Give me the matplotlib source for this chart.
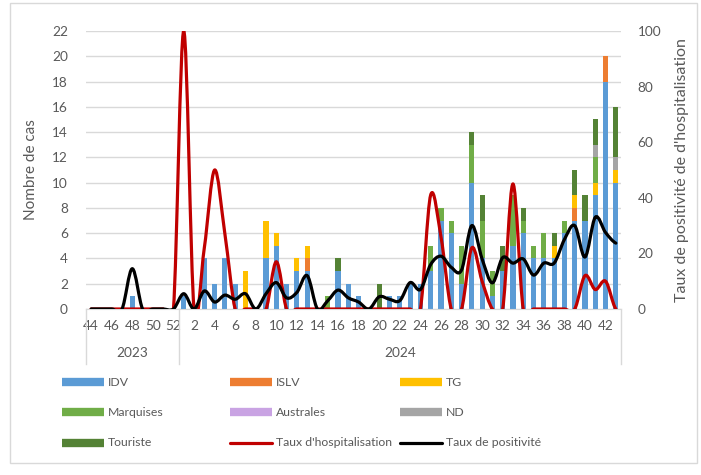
import matplotlib
matplotlib.use('Agg')
import matplotlib.pyplot as plt
from matplotlib.path import Path
from matplotlib.patches import PathPatch, Rectangle
from matplotlib.lines import Line2D
import matplotlib.transforms as mtransforms
import numpy as np

plt.rcParams['font.family'] = ['Lato', 'DejaVu Sans']

weeks = [44, 45, 46, 47, 48, 49, 50, 51, 52] + list(range(1, 44))
years = ['2023', '2024']
year_sizes = [9, 43]

# cases per week, by origin
idv = [0, 0, 0, 0, 1, 0, 0, 0, 0,
       1, 0, 4, 2, 4, 2, 0, 0, 4, 5, 2, 3, 3, 0, 0, 3, 2, 1, 0, 0, 1, 1, 2, 2,
       3, 7, 6, 2, 10, 4, 1, 3, 5, 6, 4, 4, 4, 6, 7, 7, 9, 18, 10]
islv = [0] * 9 + [0, 0, 0, 0, 0, 0, 0, 0, 0, 0, 0, 0, 1, 0, 0, 0, 0, 0, 0, 0, 0, 0, 0, 0,
                 0, 0, 0, 0, 0, 0, 0, 0, 0, 0, 0, 0, 0, 0, 1, 0, 0, 2, 0]
tg = [0] * 9 + [0, 0, 0, 0, 0, 0, 3, 0, 3, 1, 0, 1, 1, 0, 0, 0, 0, 0, 0, 0, 0, 0, 0, 0,
               0, 0, 0, 0, 0, 0, 0, 0, 0, 0, 0, 0, 1, 0, 1, 0, 1, 0, 1]
marquises = [0] * 9 + [0, 0, 0, 0, 0, 0, 0, 0, 0, 0, 0, 0, 0, 0, 1, 0, 0, 0, 0, 0, 0, 0, 0, 0,
                      2, 1, 1, 3, 3, 3, 2, 0, 4, 1, 1, 2, 0, 1, 0, 0, 2, 0, 0]
australes = [0] * 52
nd = [0] * 9 + [0] * 40 + [1, 0, 1]
touriste = [0] * 9 + [0, 0, 0, 0, 0, 0, 0, 0, 0, 0, 0, 0, 0, 0, 0, 1, 0, 0, 0, 2, 0, 0, 0, 0,
                     0, 0, 0, 0, 1, 2, 0, 2, 0, 1, 0, 0, 1, 0, 2, 2, 2, 0, 4]

# rates (%)
hosp = [0, 0, 0, 0, 0, 0, 0, 0, 0,
        100, 0, 22, 50, 27, 0, 0, 0, 0, 17, 0, 0, 0, 0, 0, 0, 0, 0, 0, 0, 0, 0, 0, 0,
        41, 26, 0, 0, 22, 10, 0, 0, 45, 0, 0, 0, 0, 0, 0, 12, 7, 10, 0]
posit = [0, 0, 0, 0, 14.5, 0, 0, 0, 0,
         5.5, 0, 6.5, 2.5, 5, 3.5, 5.5, 0, 5.5, 9.5, 4, 6, 12, 0, 3, 6.8, 4, 2.5, 0, 4.4,
         3.5, 3, 9.5, 7, 16, 19, 15, 14, 30, 18, 9.4, 18.5, 16.5, 18, 12.2, 16.5, 16.5,
         25, 30, 18.7, 33, 27.5, 23.7]

series = [('IDV', idv, '#5B9BD5'), ('ISLV', islv, '#ED7D31'), ('TG', tg, '#FFC000'),
          ('Marquises', marquises, '#70AD47'), ('Australes', australes, '#C9A3E3'),
          ('ND', nd, '#A5A5A5'), ('Touriste', touriste, '#548235')]
lines = [("Taux d'hospitalisation", hosp, '#C00000'), ('Taux de positivité', posit, '#000000')]

grey = '#595959'
W, H = 701, 475
fig = plt.figure(figsize=(W / 100, H / 100), dpi=100)
ax = fig.add_axes([86 / W, 1 - 309 / H, (621 - 86) / W, (309 - 31) / H])
ax2 = ax.twinx()

x = np.arange(len(weeks))
bottom = np.zeros(len(weeks))
for name, vals, col in series:
    ax.bar(x, vals, 0.5, bottom=bottom, color=col, zorder=2)
    bottom += np.array(vals)

ax.set_xlim(-0.5, len(weeks) - 0.5)
ax.set_ylim(0, 22)
ax.set_yticks(range(0, 23, 2))
ax.set_axisbelow(True)
ax.grid(axis='y', color='#D9D9D9', lw=1)
ax.set_xticks(x[::2], [str(w) for w in weeks[::2]])
ax.tick_params(axis='x', length=0, pad=8, labelsize=9.8, labelcolor=grey)
ax.tick_params(axis='y', length=0, pad=13, labelsize=9.8, labelcolor=grey)
for s in ['top', 'left', 'right']:
    ax.spines[s].set_visible(False)
    ax2.spines[s].set_visible(False)
ax.spines['bottom'].set_color('#D9D9D9')
ax2.spines['bottom'].set_visible(False)
ax.set_ylabel('Nombre de cas', fontsize=11, color=grey, labelpad=10)


def smooth_path(xs, ys):
    verts = [(xs[0], ys[0])]
    codes = [Path.MOVETO]
    n = len(xs)
    for i in range(n - 1):
        y0 = ys[i - 1] if i > 0 else ys[i]
        y3 = ys[i + 2] if i + 2 < n else ys[i + 1]
        verts += [(xs[i] + 1 / 3, ys[i] + (ys[i + 1] - y0) / 6),
                  (xs[i + 1] - 1 / 3, ys[i + 1] - (y3 - ys[i]) / 6),
                  (xs[i + 1], ys[i + 1])]
        codes += [Path.CURVE4] * 3
    return Path(verts, codes)


for name, vals, col in lines:
    ax2.add_patch(PathPatch(smooth_path(x, vals), fill=False, edgecolor=col, lw=2.3,
                            capstyle='round', joinstyle='round'))
ax2.set_ylim(0, 100)
ax2.set_yticks(range(0, 101, 20))
ax2.tick_params(axis='y', length=0, pad=12, labelsize=9.8, labelcolor=grey)
ax2.set_ylabel("Taux de positivité de d'hospitalisation", fontsize=11.5, color=grey, labelpad=10)

# year groups on the category axis
trans = mtransforms.blended_transform_factory(ax.transData, ax.transAxes)
start = -0.5
for yr, n in zip(years, year_sizes):
    ax.text(start + n / 2, -44 / 278, yr, transform=trans, ha='center', va='center',
            fontsize=9.8, color=grey)
    start += n
edges = np.cumsum([0] + year_sizes) - 0.5
for e in edges:
    ax.plot([e, e], [0, -55 / 278], transform=trans, color='#D9D9D9', lw=1, clip_on=False)

# legend
items = [(s[0], s[2], 'bar') for s in series] + [(l[0], l[2], 'line') for l in lines]
col_x = [62, 230, 400]
row_y = [382, 412, 443]
for k, (name, col, kind) in enumerate(items):
    cx = col_x[k % 3]
    cy = row_y[k // 3]
    lw = 6 if kind == 'bar' else 2.3
    fig.add_artist(Line2D([cx / W, (cx + 42) / W], [1 - cy / H, 1 - cy / H], color=col, lw=lw,
                          solid_capstyle='butt' if kind == 'bar' else 'round'))
    fig.text((cx + 46) / W, 1 - cy / H, name, ha='left', va='center', fontsize=8.8, color=grey)

fig.add_artist(Rectangle((10 / W, 1 - 463 / H), 687 / W, 460 / H, fill=False,
                         edgecolor='#D9D9D9', lw=1))

fig.savefig('out.png', dpi=100)
